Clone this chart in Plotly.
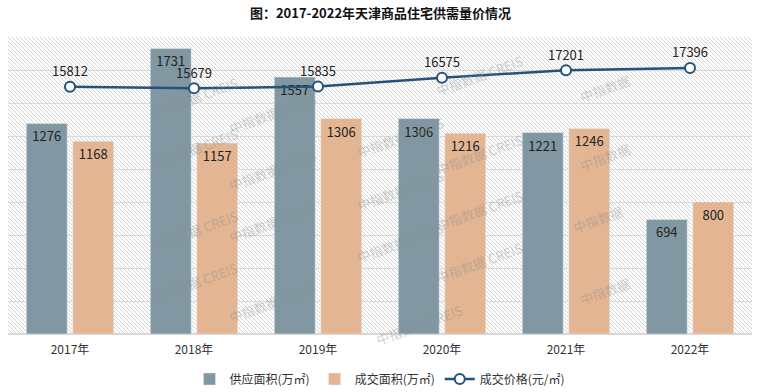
import base64
import plotly.graph_objects as go

years = ["2017年", "2018年", "2019年", "2020年", "2021年", "2022年"]
supply = [1276, 1731, 1557, 1306, 1221, 694]
deal = [1168, 1157, 1306, 1216, 1246, 800]
price = [15812, 15679, 15835, 16575, 17201, 17396]

W, H = 761, 392
L, R, T, B = 8, 9, 37, 58
PW, PH = W - L - R, H - T - B

FONT = "Noto Sans CJK SC, Noto Sans, sans-serif"
C_SUP = "#8198a3"
C_DEAL = "#e3b592"
C_LINE = "#24527a"

fig = go.Figure()
fig.add_trace(go.Bar(
    x=years, y=supply, name="供应面积(万㎡)", marker_color=C_SUP,
    text=[str(v) for v in supply], textposition="inside", insidetextanchor="end",
    textfont=dict(color="#222", size=13, family=FONT),
))
fig.add_trace(go.Bar(
    x=years, y=deal, name="成交面积(万㎡)", marker_color=C_DEAL,
    text=[str(v) for v in deal], textposition="inside", insidetextanchor="end",
    textfont=dict(color="#222", size=13, family=FONT),
))
fig.add_trace(go.Scatter(
    x=years, y=price, name="成交价格(元/㎡)", yaxis="y2", mode="lines+markers+text",
    line=dict(color=C_LINE, width=2.5),
    marker=dict(size=10, color="white", line=dict(color=C_LINE, width=2)),
    text=[str(v) for v in price], textposition="top center",
    textfont=dict(color="#222", size=13, family=FONT), cliponaxis=False,
))

# hatched plot background
svg = (
    f'<svg xmlns="http://www.w3.org/2000/svg" width="{PW}" height="{PH}">'
    '<defs><pattern id="h" patternUnits="userSpaceOnUse" width="4" height="4">'
    '<path d="M-1,-1 L5,5 M3,-1 L5,1 M-1,3 L1,5" stroke="#d4d4d4" stroke-width="1"/>'
    '</pattern></defs>'
    f'<rect width="{PW}" height="{PH}" fill="#ffffff"/>'
    f'<rect width="{PW}" height="{PH}" fill="url(#h)"/></svg>'
)
src = "data:image/svg+xml;base64," + base64.b64encode(svg.encode()).decode()
fig.add_layout_image(dict(source=src, xref="paper", yref="paper", x=0, y=1,
                          sizex=1, sizey=1, sizing="stretch", layer="below",
                          xanchor="left", yanchor="top"))

# watermarks (pixel positions of the decorative stamps)
wm_full = [(146, 70), (146, 148), (146, 230), (146, 310),
           (272, 86), (272, 170), (272, 250), (272, 330),
           (400, 110), (400, 190), (400, 270), (420, 352),
           (528, 48), (528, 127), (528, 210), (528, 290)]
wm_short = [(635, 68), (635, 157), (628, 240), (635, 312)]
for (px, py), txt in [(p, "中指数据 CREIS") for p in wm_full] + [(p, "中指数据") for p in wm_short]:
    fig.add_annotation(x=(px - L) / PW, y=1 - (py - T) / PH, xref="paper", yref="paper",
                       text=txt, showarrow=False, textangle=-20,
                       font=dict(size=13, color="rgba(140,140,140,0.42)", family=FONT))

fig.update_layout(
    width=W, height=H, margin=dict(l=L, r=R, t=T, b=B, autoexpand=False),
    paper_bgcolor="white", plot_bgcolor="rgba(0,0,0,0)",
    title=dict(text="<b>图：2017-2022年天津商品住宅供需量价情况</b>", x=0.5, xanchor="center",
               y=1 - 13 / H, yanchor="middle", yref="container",
               font=dict(size=13, color="#111", family=FONT)),
    barmode="group", bargap=0.25, bargroupgap=0.12,
    font=dict(family=FONT, color="#333", size=12),
    xaxis=dict(showgrid=False, ticks="", tickfont=dict(size=12, color="#333"),
               showline=False, zeroline=False, automargin=False, ticklabelstandoff=7),
    yaxis=dict(range=[0, 1800], dtick=200, showticklabels=False, gridcolor="#d9d9d9",
               gridwidth=1, zeroline=True, zerolinecolor="#d9d9d9", showline=False,
               automargin=False),
    yaxis2=dict(range=[-5000, 20000], overlaying="y", side="right", showgrid=False,
                showticklabels=False, zeroline=False, automargin=False),
    legend=dict(orientation="h", x=0.5, xanchor="center", y=-(379 - (H - B)) / PH,
                yanchor="middle", font=dict(size=12, color="#333"), traceorder="normal",
                itemwidth=30),
    showlegend=True,
)

fig.write_html("out.html", config={"displayModeBar": False},
               post_script="document.body.style.margin='0';document.body.style.overflow='hidden';")
